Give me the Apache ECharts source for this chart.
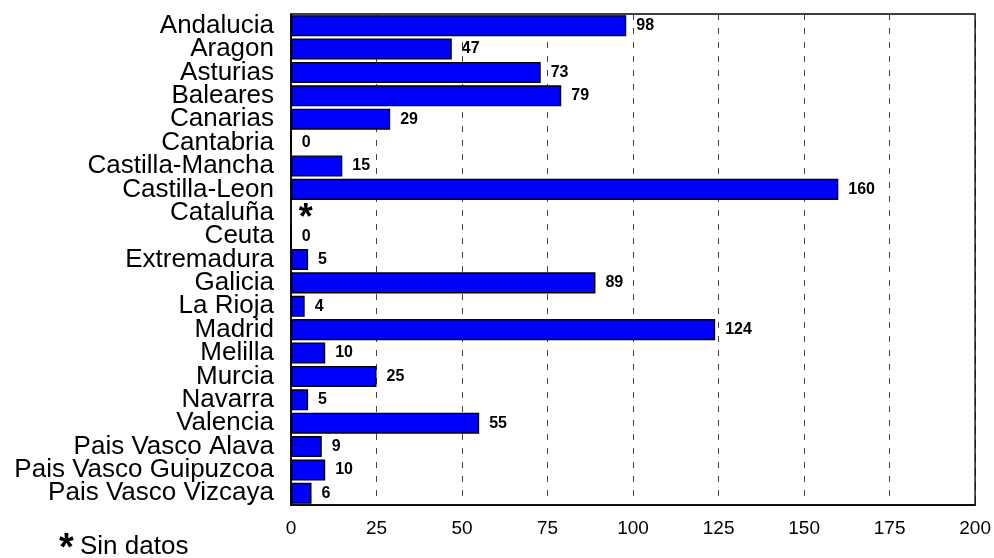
<!DOCTYPE html>
<html><head><meta charset="utf-8">
<script src="https://cdn.jsdelivr.net/npm/echarts@6/dist/echarts.min.js"></script>
<style>html,body{margin:0;padding:0;background:#fff}#c{width:994px;height:558px}</style>
</head><body><div id="c"></div>
<script>
var categories = ['Andalucia','Aragon','Asturias','Baleares','Canarias','Cantabria','Castilla-Mancha','Castilla-Leon','Cataluña','Ceuta','Extremadura','Galicia','La Rioja','Madrid','Melilla','Murcia','Navarra','Valencia','Pais Vasco Alava','Pais Vasco Guipuzcoa','Pais Vasco Vizcaya'];
var values = [98,47,73,79,29,0,15,160,null,0,5,89,4,124,10,25,5,55,9,10,6];
var xTicks = [0,25,50,75,100,125,150,175,200];
var noteText = 'Sin datos';

var data = values.map(function(v){
  if (v === null) return {value:0, itemStyle:{color:'rgba(0,0,0,0)',borderColor:'rgba(0,0,0,0)'}, label:{formatter:'*', fontSize:36, offset:[-3,6]}};
  return v;
});

var chart = echarts.init(document.getElementById('c'));
chart.setOption({
  animation:false,
  backgroundColor:'#fff',
  textStyle:{fontFamily:'Liberation Sans, Arial, sans-serif'},
  grid:{left:291,right:18,top:14,bottom:53,show:true,borderColor:'#000',borderWidth:1.5,backgroundColor:'#fff'},
  xAxis:{type:'value',min:0,max:200,interval:25,
    axisLine:{show:true,lineStyle:{color:'#000',width:1.5}},
    axisTick:{show:false},
    axisLabel:{color:'#000',fontSize:19,margin:14,formatter:function(v){return xTicks.indexOf(v)>=0?String(v):'';}},
    splitLine:{show:true,lineStyle:{color:'#444',type:[6,8],width:1}}
  },
  yAxis:{type:'category',data:categories,inverse:true,
    axisLine:{show:true,lineStyle:{color:'#000',width:1.5}},
    axisTick:{show:false},
    axisLabel:{color:'#000',fontSize:26,margin:17,interval:0},
    splitLine:{show:false}
  },
  series:[{type:'bar',data:data,barCategoryGap:'10%',
    itemStyle:{color:'#0000ff',borderColor:'#000',borderWidth:1.4},
    label:{show:true,position:'right',distance:10,color:'#000',fontWeight:'bold',fontSize:16}
  }],
  graphic:[
    {type:'text',left:59,top:531,style:{text:'*',font:'bold 38px Liberation Sans, Arial, sans-serif',fill:'#000'}},
    {type:'text',left:80,top:534,style:{text:noteText,font:'26px Liberation Sans, Arial, sans-serif',fill:'#000'}}
  ]
});
</script></body></html>
